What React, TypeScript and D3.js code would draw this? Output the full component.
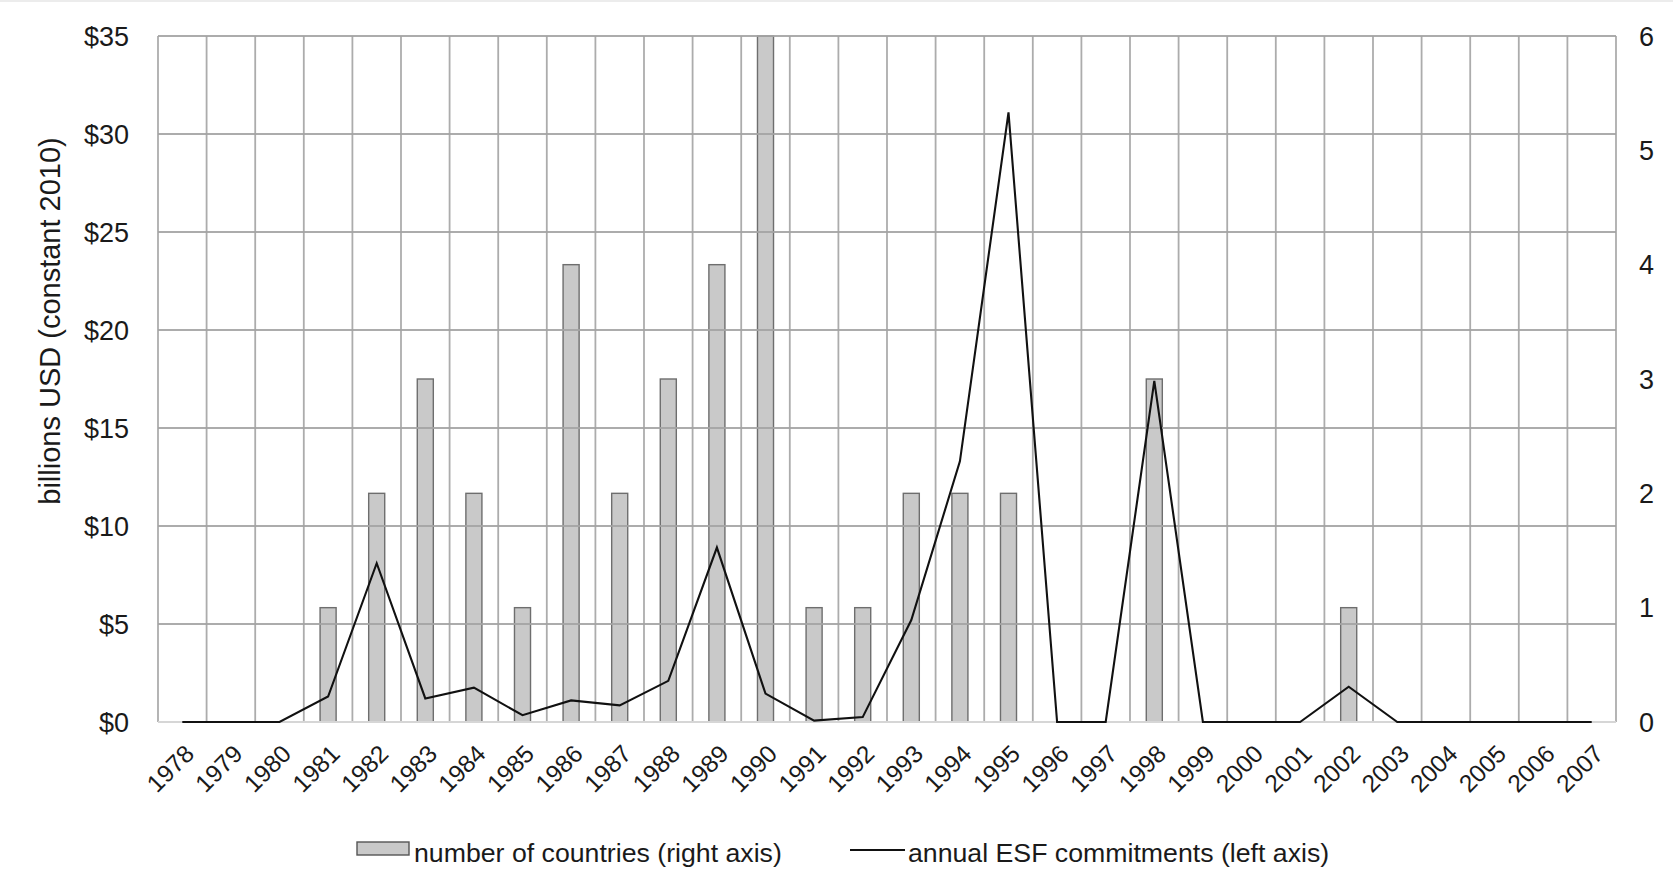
import * as d3 from 'd3'

const years = [
  '1978', '1979', '1980', '1981', '1982', '1983', '1984', '1985', '1986', '1987',
  '1988', '1989', '1990', '1991', '1992', '1993', '1994', '1995', '1996', '1997',
  '1998', '1999', '2000', '2001', '2002', '2003', '2004', '2005', '2006', '2007',
]

// number of countries (right axis)
const countries = [0, 0, 0, 1, 2, 3, 2, 1, 4, 2, 3, 4, 6, 1, 1, 2, 2, 2, 0, 0, 3, 0, 0, 0, 1, 0, 0, 0, 0, 0]

// annual ESF commitments, billions USD constant 2010 (left axis)
const esf = [
  0, 0, 0, 1.3, 8.1, 1.2, 1.75, 0.35, 1.1, 0.85,
  2.1, 8.9, 1.45, 0.07, 0.25, 5.2, 13.3, 31.1, 0, 0,
  17.4, 0, 0, 0, 1.8, 0, 0, 0, 0, 0,
]

const leftTicks = [0, 5, 10, 15, 20, 25, 30, 35]
const rightTicks = [0, 1, 2, 3, 4, 5, 6]

const W = 1673
const H = 895
const margin = { top: 36, right: 57, bottom: 173, left: 158 }
const font = '"Liberation Sans", Arial, sans-serif'

export default function App() {
  const innerW = W - margin.left - margin.right
  const innerH = H - margin.top - margin.bottom

  const x = d3.scaleBand().domain(years).range([0, innerW]).padding(0)
  const yLeft = d3.scaleLinear().domain([0, 35]).range([innerH, 0])
  const yRight = d3.scaleLinear().domain([0, 6]).range([innerH, 0])

  const barW = x.bandwidth() * 0.33
  const cx = (y: string) => (x(y) ?? 0) + x.bandwidth() / 2

  const line = d3
    .line<number>()
    .x((_, i) => cx(years[i]))
    .y((d) => yLeft(d))

  const boundaries = [...years.map((y) => x(y) ?? 0), innerW]

  return (
    <svg
      width={W}
      height={H}
      style={{ position: 'absolute', left: 0, top: 0, background: '#fff' }}
      fontFamily={font}
    >
      <line x1={0} x2={W} y1={1} y2={1} stroke="#e6e6e6" strokeWidth={1.5} />
      <g transform={`translate(${margin.left},${margin.top})`}>
        {/* bars */}
        {countries.map((c, i) =>
          c > 0 ? (
            <rect
              key={years[i]}
              x={cx(years[i]) - barW / 2}
              y={yRight(c)}
              width={barW}
              height={innerH - yRight(c)}
              fill="#c9c9c9"
              stroke="#6e6e6e"
              strokeWidth={1.4}
            />
          ) : null
        )}

        {/* gridlines */}
        {leftTicks
          .filter((t) => t > 0)
          .map((t) => (
            <line
              key={t}
              x1={0}
              x2={innerW}
              y1={yLeft(t)}
              y2={yLeft(t)}
              stroke="#a3a3a3"
              strokeOpacity={0.9}
              strokeWidth={1.8}
            />
          ))}
        {boundaries.map((bx, i) => (
          <line
            key={i}
            x1={bx}
            x2={bx}
            y1={0}
            y2={innerH}
            stroke="#a3a3a3"
            strokeOpacity={0.9}
            strokeWidth={1.8}
          />
        ))}
        <line x1={0} x2={innerW} y1={innerH} y2={innerH} stroke="#d6d6d6" strokeWidth={2} />

        {/* ESF line */}
        <path d={line(esf) ?? ''} fill="none" stroke="#111" strokeWidth={2.1} strokeLinejoin="miter" />

        {/* left axis labels */}
        {leftTicks.map((t) => (
          <text
            key={t}
            x={-29}
            y={yLeft(t)}
            dy="0.36em"
            textAnchor="end"
            fontSize={27}
            fill="#1a1a1a"
          >
            {`$${t}`}
          </text>
        ))}

        {/* right axis labels */}
        {rightTicks.map((t) => (
          <text
            key={t}
            x={innerW + 23}
            y={yRight(t)}
            dy="0.36em"
            textAnchor="start"
            fontSize={27}
            fill="#1a1a1a"
          >
            {t}
          </text>
        ))}

        {/* year labels */}
        {years.map((y) => (
          <text
            key={y}
            transform={`translate(${cx(y) + 7},${innerH + 27}) rotate(-45)`}
            dy="0.36em"
            textAnchor="end"
            fontSize={24.5}
            fill="#1a1a1a"
          >
            {y}
          </text>
        ))}

        {/* left axis title */}
        <text
          transform={`translate(${50 - margin.left},${321 - margin.top}) rotate(-90)`}
          dy="0.36em"
          textAnchor="middle"
          fontSize={29}
          fill="#1a1a1a"
        >
          billions USD (constant 2010)
        </text>
      </g>

      {/* legend */}
      <g fontSize={26.7} fill="#1a1a1a">
        <rect x={357} y={842} width={52} height={13} fill="#c9c9c9" stroke="#555" strokeWidth={1.4} />
        <text x={414} y={862}>number of countries (right axis)</text>
        <line x1={850} x2={905} y1={850} y2={850} stroke="#111" strokeWidth={2.1} />
        <text x={908} y={862}>annual ESF commitments (left axis)</text>
      </g>
    </svg>
  )
}
